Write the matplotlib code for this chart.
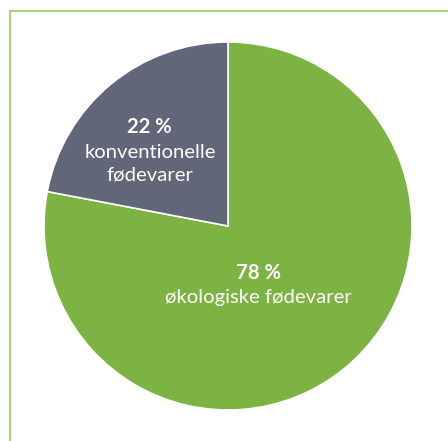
import matplotlib
matplotlib.use("Agg")
import matplotlib.pyplot as plt
from matplotlib.lines import Line2D

labels = ["økologiske fødevarer", "konventionelle\nfødevarer"]
values = [78, 22]
colors = ["#7cb342", "#626679"]

plt.rcParams["font.family"] = ["Lato", "DejaVu Sans"]

fig = plt.figure(figsize=(4.48, 4.41), dpi=100)
W, H = 448, 441
cx, cy, r = 228, 226, 184
ax = fig.add_axes([(cx - r) / W, (H - cy - r) / H, 2 * r / W, 2 * r / H])

ax.pie(values, colors=colors, startangle=90, counterclock=False, radius=1,
       wedgeprops=dict(edgecolor="white", linewidth=1.2))
ax.set_xlim(-1, 1)
ax.set_ylim(-1, 1)
ax.set_aspect("equal")
ax.axis("off")


def pos(px, py):
    return (px - cx) / r, (cy - py) / r


fs = 14.6
x, y = pos(259, 273)
ax.text(x, y, f"{values[0]} %", color="white", fontsize=fs, fontweight="bold",
        ha="center", va="center")
x, y = pos(258, 297)
ax.text(x, y, labels[0], color="white", fontsize=fs, ha="center", va="center")

x, y = pos(149, 127)
ax.text(x, y, f"{values[1]} %", color="white", fontsize=fs, fontweight="bold",
        ha="center", va="center")
for i, line in enumerate(labels[1].split("\n")):
    x, y = pos(150, 152 + 23 * i)
    ax.text(x, y, line, color="white", fontsize=fs, ha="center", va="center")

# thin light green frame on the left and top
border = "#a8d27c"
fig.add_artist(Line2D([10 / W, 10 / W], [0, (H - 11) / H], color=border, lw=1.5))
fig.add_artist(Line2D([10 / W, 1], [(H - 11) / H, (H - 11) / H], color=border, lw=1.5))

fig.savefig("out.png", dpi=100)
